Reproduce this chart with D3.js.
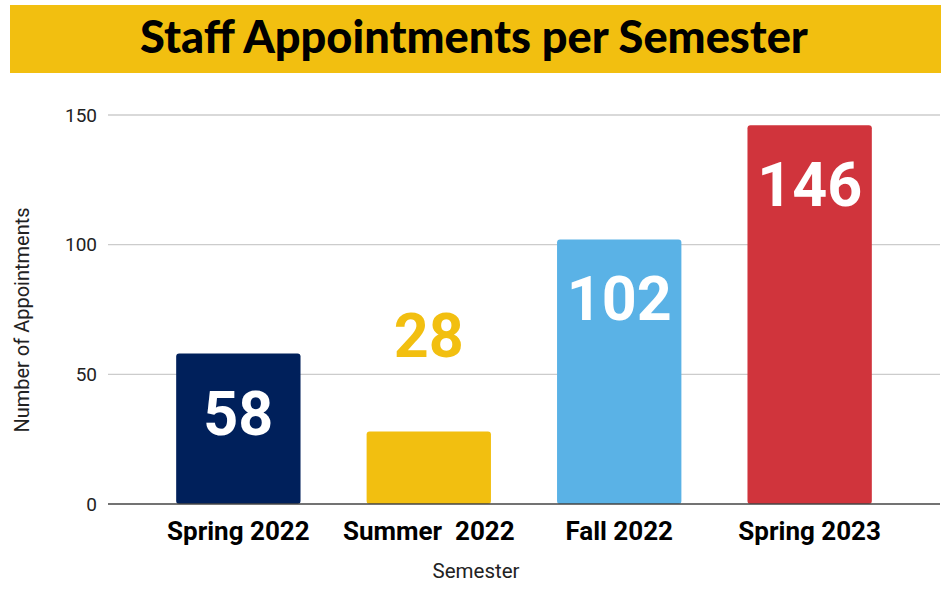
<!DOCTYPE html>
<html><head><meta charset="utf-8">
<script src="https://cdn.jsdelivr.net/npm/d3@7"></script>
<style>body{margin:0;background:#fff}svg{display:block}</style>
</head><body>
<script>
const categories = ["Spring 2022", "Summer  2022", "Fall 2022", "Spring 2023"];
const values = [58, 28, 102, 146];
const colors = ["#00205B", "#F2BF10", "#5AB2E6", "#D0343C"];
const yTicks = [0, 50, 100, 150];
const title = "Staff Appointments per Semester";
const xTitle = "Semester";
const yTitle = "Number of Appointments";

const W = 946, H = 590;
const svg = d3.select("body").append("svg").attr("width", W).attr("height", H);

// title banner
svg.append("rect").attr("x", 10).attr("y", 5).attr("width", 931).attr("height", 68).attr("fill", "#F2BF10");
const t = svg.append("text").attr("x", 474).attr("y", 53).attr("text-anchor", "middle")
  .attr("font-family", "Lato, 'Open Sans', sans-serif").attr("font-weight", 900)
  .attr("font-size", 40).attr("fill", "#000").text(title);
const tw = t.node().getComputedTextLength();
t.attr("font-size", 40 * 668 / tw);

const x = d3.scaleBand().domain(categories).range([108, 940]).paddingInner(0.347).paddingOuter(0.358);
const y = d3.scaleLinear().domain([0, 150]).range([504, 115]);

// gridlines
svg.append("g").selectAll("line").data(yTicks.filter(d => d > 0)).join("line")
  .attr("x1", 108).attr("x2", 940).attr("y1", d => y(d)).attr("y2", d => y(d))
  .attr("stroke", "#cccccc").attr("stroke-width", 1.3);

// y axis labels
const yAxis = svg.append("g").attr("transform", "translate(108,0)")
  .call(d3.axisLeft(y).tickValues(yTicks).tickSize(0).tickPadding(11));
yAxis.select(".domain").remove();
yAxis.selectAll("text").attr("font-family", "Roboto, sans-serif").attr("font-size", 19).attr("fill", "#222");

// bars
svg.append("g").selectAll("rect").data(values).join("rect")
  .attr("x", (d, i) => x(categories[i])).attr("width", x.bandwidth())
  .attr("y", d => y(d)).attr("height", d => y(0) - y(d))
  .attr("rx", 3).attr("fill", (d, i) => colors[i]);

// baseline
svg.append("line").attr("x1", 108).attr("x2", 940).attr("y1", y(0)).attr("y2", y(0))
  .attr("stroke", "#444").attr("stroke-width", 1.5);

// value labels
svg.append("g").selectAll("text").data(values).join("text")
  .attr("x", (d, i) => x(categories[i]) + x.bandwidth() / 2)
  .attr("y", d => d < 40 ? y(d) - 74 : y(d) + 81)
  .attr("text-anchor", "middle")
  .attr("font-family", "Roboto, sans-serif").attr("font-weight", 700).attr("font-size", 61)
  .attr("fill", (d, i) => d < 40 ? colors[i] : "#fff")
  .text(d => d);

// x axis labels
const xAxis = svg.append("g").attr("transform", `translate(0,${y(0)})`)
  .call(d3.axisBottom(x).tickSize(0).tickPadding(14));
xAxis.select(".domain").remove();
xAxis.selectAll("text").attr("font-family", "Roboto, sans-serif").attr("font-weight", 700)
  .attr("font-size", 26).attr("fill", "#000").style("white-space", "pre").attr("dy", null).attr("y", 36);

// axis titles
svg.append("text").attr("x", 476).attr("y", 578).attr("text-anchor", "middle")
  .attr("font-family", "Roboto, sans-serif").attr("font-size", 20.5).attr("fill", "#222").text(xTitle);
svg.append("text").attr("transform", "translate(29,320) rotate(-90)").attr("text-anchor", "middle")
  .attr("font-family", "Roboto, sans-serif").attr("font-size", 20).attr("fill", "#222").text(yTitle);
</script>
</body></html>
